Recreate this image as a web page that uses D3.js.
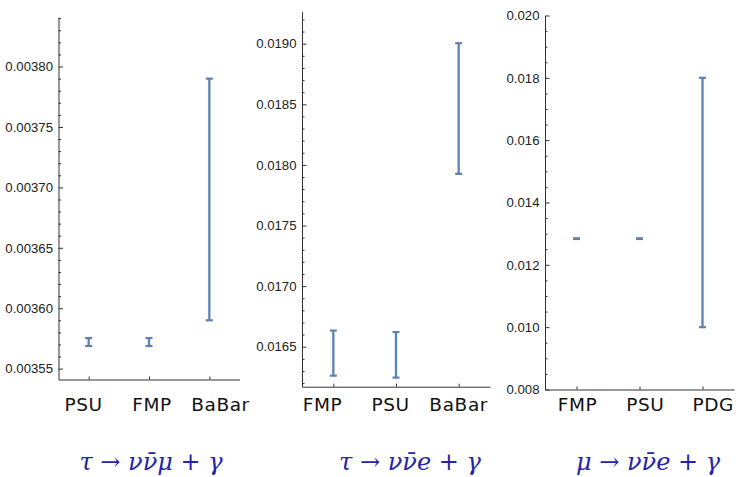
<!DOCTYPE html>
<html>
<head>
<meta charset="utf-8">
<script src="https://cdn.jsdelivr.net/npm/d3@7"></script>
<style>
  body { margin: 0; background: #fff; }
  svg { display: block; }
</style>
</head>
<body>
<svg id="chart" width="736" height="477"></svg>
<script>
// Radiative lepton decay branching ratios: two theory predictions vs. measurement

// tau -> nu nubar mu + gamma
const tauMuCategories = ["PSU", "FMP", "BaBar"];
const tauMuValues = [0.003572, 0.003572, 0.00369];
const tauMuErrors = [0.0000033, 0.0000033, 0.0001];
const tauMuTicks = [0.00355, 0.0036, 0.00365, 0.0037, 0.00375, 0.0038];
const tauMuDomain = [0.003541, 0.003841];
const tauMuMinorStep = 0.00001;
const tauMuTitle = "τ → νν̄μ + γ";

// tau -> nu nubar e + gamma
const tauECategories = ["FMP", "PSU", "BaBar"];
const tauEValues = [0.016447, 0.016433, 0.018465];
const tauEErrors = [0.000186, 0.000188, 0.000539];
const tauETicks = [0.0165, 0.017, 0.0175, 0.018, 0.0185, 0.019];
const tauEDomain = [0.01617, 0.019264];
const tauEMinorStep = 0.0001;
const tauETitle = "τ → νν̄e + γ";

// mu -> nu nubar e + gamma
const muECategories = ["FMP", "PSU", "PDG"];
const muEValues = [0.01284, 0.01284, 0.014];
const muEErrors = [0.00001, 0.00001, 0.004];
const muETicks = [0.008, 0.01, 0.012, 0.014, 0.016, 0.018, 0.02];
const muEDomain = [0.008, 0.02];
const muEMinorStep = 0.0005;
const muETitle = "μ → νν̄e + γ";

const panels = [
  { cats: tauMuCategories, vals: tauMuValues, errs: tauMuErrors, ticks: tauMuTicks,
    domain: tauMuDomain, minorStep: tauMuMinorStep, title: tauMuTitle, fmt: d3.format(".5f"),
    left: 58.5, right: 239.5, top: 17, bottom: 379.5, labelX: [83.5, 220.5], titleX: 151 },
  { cats: tauECategories, vals: tauEValues, errs: tauEErrors, ticks: tauETicks,
    domain: tauEDomain, minorStep: tauEMinorStep, title: tauETitle, fmt: d3.format(".4f"),
    left: 302, right: 490, top: 11.7, bottom: 386.7, labelX: [322.5, 458.7], titleX: 410 },
  { cats: muECategories, vals: muEValues, errs: muEErrors, ticks: muETicks,
    domain: muEDomain, minorStep: muEMinorStep, title: muETitle, fmt: d3.format(".3f"),
    left: 545, right: 734, top: 15.5, bottom: 389.5, labelX: [577.5, 713.3], titleX: 648 }
];

const barColor = "#5e81b5";
const axisColor = "#333";
const svg = d3.select("#chart");

panels.forEach(p => {
  const g = svg.append("g");
  const x = d3.scaleLinear().domain([0.5, 3.5]).range([p.left, p.right]);
  const y = d3.scaleLinear().domain(p.domain).range([p.bottom, p.top]);

  // minor ticks
  const eps = p.minorStep * 1e-3;
  const minor = d3.range(Math.ceil(p.domain[0] / p.minorStep) * p.minorStep, p.domain[1] + eps, p.minorStep)
    .filter(v => !p.ticks.some(t => Math.abs(t - v) < eps));
  const minorAxis = g.append("g")
    .attr("transform", `translate(${p.left},0)`)
    .call(d3.axisLeft(y).tickValues(minor).tickFormat("").tickSizeInner(-2.5).tickSizeOuter(0));
  minorAxis.select(".domain").remove();
  minorAxis.selectAll("line").attr("stroke", axisColor);

  // major ticks with labels
  const yAxis = g.append("g")
    .attr("transform", `translate(${p.left},0)`)
    .call(d3.axisLeft(y).tickValues(p.ticks).tickFormat(p.fmt)
      .tickSizeInner(-4.5).tickSizeOuter(0).tickPadding(5.5));
  yAxis.selectAll("line").attr("stroke", axisColor);
  yAxis.select(".domain").attr("stroke", axisColor);
  yAxis.selectAll("text")
    .attr("fill", "#222")
    .style("font-family", "'Liberation Sans', Arial, sans-serif")
    .style("font-size", "13.2px");

  // category axis
  const xAxis = g.append("g")
    .attr("transform", `translate(0,${p.bottom})`)
    .call(d3.axisBottom(x).tickValues([1, 2, 3]).tickFormat("")
      .tickSizeInner(-3).tickSizeOuter(0));
  xAxis.selectAll("line").attr("stroke", axisColor);
  xAxis.select(".domain").attr("stroke", axisColor);

  // error bars
  const bars = g.append("g").selectAll("g")
    .data(p.vals.map((v, i) => ({ v, e: p.errs[i], i })))
    .join("g")
    .attr("stroke", barColor)
    .attr("fill", "none");
  bars.append("line")
    .attr("x1", d => x(d.i + 1)).attr("x2", d => x(d.i + 1))
    .attr("y1", d => y(d.v - d.e)).attr("y2", d => y(d.v + d.e))
    .attr("stroke-width", 2.3);
  [-1, 1].forEach(s => {
    bars.append("line")
      .attr("x1", d => x(d.i + 1) - 3.5).attr("x2", d => x(d.i + 1) + 3.5)
      .attr("y1", d => y(d.v + s * d.e)).attr("y2", d => y(d.v + s * d.e))
      .attr("stroke-width", 2.2);
  });

  // category labels
  const lx = d3.scaleLinear().domain([0, 2]).range(p.labelX);
  g.append("g").selectAll("text")
    .data(p.cats)
    .join("text")
    .attr("x", (d, i) => lx(i))
    .attr("y", 411)
    .attr("text-anchor", "middle")
    .attr("fill", "#111")
    .attr("letter-spacing", "0.6px")
    .style("font-family", "'DejaVu Sans', sans-serif")
    .style("font-size", "18.5px")
    .text(d => d);

  // process title, letters in italic
  const title = g.append("text")
    .attr("x", p.titleX)
    .attr("y", 470)
    .attr("text-anchor", "middle")
    .attr("fill", "#2424a8")
    .style("font-family", "'DejaVu Serif', serif")
    .style("font-size", "24px");
  const tokens = p.title.match(/[\p{L}][\u0304]?|[^\p{L}]+/gu);
  tokens.forEach(t => {
    title.append("tspan")
      .style("font-style", /\p{L}/u.test(t) ? "italic" : "normal")
      .text(t);
  });
});
</script>
</body>
</html>
